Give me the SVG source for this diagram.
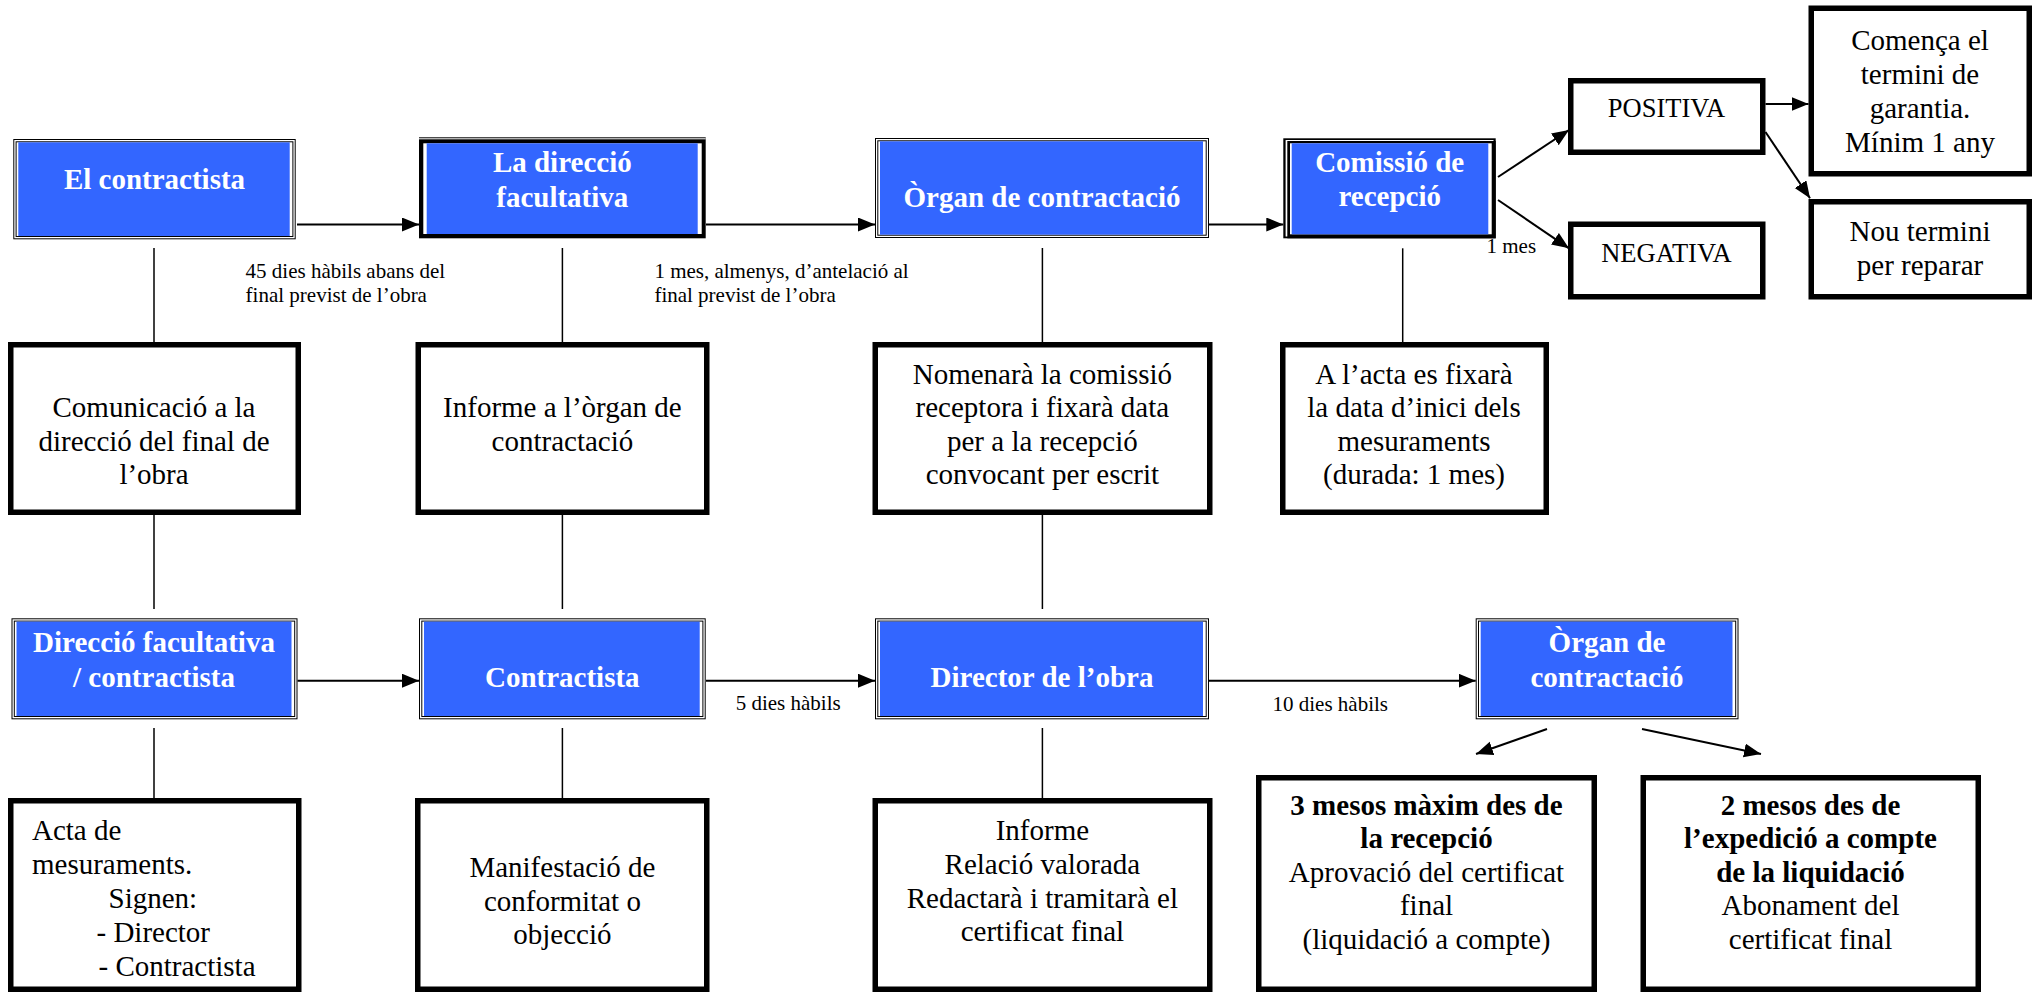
<svg xmlns="http://www.w3.org/2000/svg" width="2040" height="993" viewBox="0 0 2040 993">
<style>
.k{fill:#000}
.w{fill:#fff}
.b{fill:#3366ff}
.box{fill:#fff;stroke:#000;stroke-width:5.5}
text{font-family:"Liberation Serif","Times New Roman",serif;font-size:29px;fill:#000}
.c{text-anchor:middle}
.tb{font-weight:bold;fill:#fff;text-anchor:middle}
.bd{font-weight:bold}
.lbl{font-size:21px}
.cap{font-size:26.5px;text-anchor:middle}
.ln{stroke:#000;stroke-width:2;fill:none}
.vl{stroke:#000;stroke-width:1.5;fill:none}
.arr{marker-end:url(#ah)}
</style>
<defs>
<marker id="ah" markerUnits="userSpaceOnUse" markerWidth="18" markerHeight="15" refX="17" refY="7" orient="auto">
<path d="M0,0 L17,7 L0,14 z" fill="#000"/>
</marker>
</defs>
<rect x="0" y="0" width="2040" height="993" fill="#fff"/>

<g id="connectors">
<line class="ln arr" x1="297" y1="224.5" x2="419" y2="224.5"/>
<line class="ln arr" x1="706" y1="224.5" x2="875" y2="224.5"/>
<line class="ln arr" x1="1209" y1="224.5" x2="1283.3" y2="224.5"/>
<line class="ln arr" x1="1498" y1="177" x2="1569" y2="130"/>
<line class="ln arr" x1="1498" y1="200" x2="1569" y2="248.3"/>
<line class="ln arr" x1="1765.5" y1="104" x2="1808.5" y2="104"/>
<line class="ln arr" x1="1765.5" y1="132" x2="1810" y2="198.3"/>
<line class="vl" x1="154" y1="248" x2="154" y2="342"/>
<line class="vl" x1="154" y1="515" x2="154" y2="609"/>
<line class="vl" x1="154" y1="728" x2="154" y2="798"/>
<line class="vl" x1="562.4" y1="248" x2="562.4" y2="342"/>
<line class="vl" x1="562.4" y1="515" x2="562.4" y2="609"/>
<line class="vl" x1="562.4" y1="728" x2="562.4" y2="798"/>
<line class="vl" x1="1042.4" y1="248" x2="1042.4" y2="342"/>
<line class="vl" x1="1042.4" y1="515" x2="1042.4" y2="609"/>
<line class="vl" x1="1042.4" y1="728" x2="1042.4" y2="798"/>
<line class="vl" x1="1402.7" y1="248.3" x2="1402.7" y2="342"/>
<line class="ln arr" x1="297.5" y1="680.7" x2="419" y2="680.7"/>
<line class="ln arr" x1="706" y1="680.7" x2="875" y2="680.7"/>
<line class="ln arr" x1="1209" y1="680.7" x2="1475.7" y2="680.7"/>
<line class="ln arr" x1="1547" y1="729" x2="1476" y2="754"/>
<line class="ln arr" x1="1642" y1="729" x2="1761" y2="754"/>
<text class="lbl" x="245.6" y="277.7">45 dies hàbils abans del</text>
<text class="lbl" x="245.6" y="301.7">final previst de l’obra</text>
<text class="lbl" x="654.4" y="277.7">1 mes, almenys, d’antelació al</text>
<text class="lbl" x="654.4" y="301.7">final previst de l’obra</text>
<text class="lbl" x="1486.5" y="253.3">1 mes</text>
<text class="lbl" x="735.7" y="710">5 dies hàbils</text>
<text class="lbl" x="1272.5" y="710.5">10 dies hàbils</text>
</g>

<g id="n-el-contractista">
<rect class="k" x="13.3" y="139" width="282.4" height="100.3"/>
<rect class="w" x="14.3" y="140" width="280.4" height="98.3"/>
<rect class="k" x="15.6" y="141.3" width="277.8" height="95.7"/>
<rect class="w" x="16.6" y="142.3" width="275.8" height="93.7"/>
<rect class="b" x="18.3" y="142.3" width="271.4" height="93.7"/>
<text class="tb" x="154.5" y="189.3">El contractista</text>
</g>

<g id="n-la-direccio">
<rect class="k" x="419" y="137.3" width="286.7" height="101"/>
<rect class="w" x="419" y="138.3" width="286.7" height="1"/>
<rect class="w" x="423.3" y="143.3" width="278.4" height="90.7"/>
<rect class="b" x="426.7" y="143.3" width="271" height="90.7"/>
<text class="tb" x="562.3" y="172">La direcció</text>
<text class="tb" x="562.3" y="207">facultativa</text>
</g>

<g id="n-organ-contractacio-1">
<rect class="k" x="875" y="138" width="334" height="100"/>
<rect class="w" x="876" y="139" width="332" height="98"/>
<rect class="k" x="877.3" y="140.3" width="329.4" height="95.4"/>
<rect class="w" x="878.3" y="141.3" width="327.4" height="93.4"/>
<rect class="b" x="880" y="141.3" width="323" height="93.4"/>
<text class="tb" x="1042" y="207.3">Òrgan de contractació</text>
</g>

<g id="n-comissio">
<rect class="k" x="1283.3" y="138.3" width="212.4" height="100"/>
<rect class="w" x="1285.6" y="140" width="207.9" height="96.5"/>
<rect class="k" x="1287.3" y="141" width="208.4" height="97.3"/>
<rect class="w" x="1290" y="143.3" width="201.7" height="91"/>
<rect class="b" x="1291.7" y="143.3" width="196.6" height="91"/>
<text class="tb" x="1389.7" y="171.7">Comissió de</text>
<text class="tb" x="1389.7" y="206">recepció</text>
</g>

<g id="n-positiva">
<rect class="box" x="1570.75" y="80.75" width="192" height="71.5"/>
<text class="cap" x="1666.5" y="117.3">POSITIVA</text>
</g>

<g id="n-negativa">
<rect class="box" x="1570.75" y="224.25" width="192" height="72.5"/>
<text class="cap" x="1666.5" y="261.7">NEGATIVA</text>
</g>

<g id="n-comenca">
<rect class="box" x="1811.25" y="8.25" width="218" height="165.5"/>
<text class="c" x="1920" y="49.5">Comença el</text>
<text class="c" x="1920" y="83.5">termini de</text>
<text class="c" x="1920" y="117.5">garantia.</text>
<text class="c" x="1920" y="151.5">Mínim 1 any</text>
</g>

<g id="n-nou-termini">
<rect class="box" x="1811.25" y="201.75" width="218" height="95"/>
<text class="c" x="1920" y="240.5">Nou termini</text>
<text class="c" x="1920" y="274.5">per reparar</text>
</g>

<g id="n-comunicacio">
<rect class="box" x="10.75" y="344.75" width="287.5" height="167.5"/>
<text class="c" x="154" y="417">Comunicació a la</text>
<text class="c" x="154" y="450.5">direcció del final de</text>
<text class="c" x="154" y="484">l’obra</text>
</g>

<g id="n-informe-organ">
<rect class="box" x="418.25" y="344.75" width="288.5" height="167.5"/>
<text class="c" x="562.4" y="417">Informe a l’òrgan de</text>
<text class="c" x="562.4" y="450.5">contractació</text>
</g>

<g id="n-nomenara">
<rect class="box" x="875.25" y="344.75" width="334.5" height="167.5"/>
<text class="c" x="1042.4" y="383.5">Nomenarà la comissió</text>
<text class="c" x="1042.4" y="417">receptora i fixarà data</text>
<text class="c" x="1042.4" y="450.5">per a la recepció</text>
<text class="c" x="1042.4" y="484">convocant per escrit</text>
</g>

<g id="n-acta-fixara">
<rect class="box" x="1282.75" y="344.75" width="263.5" height="167.5"/>
<text class="c" x="1414" y="383.5">A l’acta es fixarà</text>
<text class="c" x="1414" y="417">la data d’inici dels</text>
<text class="c" x="1414" y="450.5">mesuraments</text>
<text class="c" x="1414" y="484">(durada: 1 mes)</text>
</g>

<g id="n-direccio-contractista">
<rect class="k" x="11.5" y="618.3" width="286" height="101"/>
<rect class="w" x="12.5" y="619.3" width="284" height="99"/>
<rect class="k" x="13.8" y="620.6" width="281.4" height="96.4"/>
<rect class="w" x="14.8" y="621.6" width="279.4" height="94.4"/>
<rect class="b" x="16.5" y="621.6" width="275" height="94.4"/>
<text class="tb" x="154" y="651.7">Direcció facultativa</text>
<text class="tb" x="154" y="686.7">/ contractista</text>
</g>

<g id="n-contractista">
<rect class="k" x="419" y="618.3" width="286.7" height="101"/>
<rect class="w" x="420" y="619.3" width="284.7" height="99"/>
<rect class="k" x="421.3" y="620.6" width="282.1" height="96.4"/>
<rect class="w" x="422.3" y="621.6" width="280.1" height="94.4"/>
<rect class="b" x="424" y="621.6" width="275.7" height="94.4"/>
<text class="tb" x="562.3" y="686.7">Contractista</text>
</g>

<g id="n-director-obra">
<rect class="k" x="875" y="618.3" width="334" height="101"/>
<rect class="w" x="876" y="619.3" width="332" height="99"/>
<rect class="k" x="877.3" y="620.6" width="329.4" height="96.4"/>
<rect class="w" x="878.3" y="621.6" width="327.4" height="94.4"/>
<rect class="b" x="880" y="621.6" width="323" height="94.4"/>
<text class="tb" x="1042" y="686.7">Director de l’obra</text>
</g>

<g id="n-organ-contractacio-2">
<rect class="k" x="1475.7" y="618.3" width="262.8" height="101"/>
<rect class="w" x="1476.7" y="619.3" width="260.8" height="99"/>
<rect class="k" x="1478" y="620.6" width="258.2" height="96.4"/>
<rect class="w" x="1479" y="621.6" width="256.2" height="94.4"/>
<rect class="b" x="1480.7" y="621.6" width="251.8" height="94.4"/>
<text class="tb" x="1607" y="651.7">Òrgan de</text>
<text class="tb" x="1607" y="686.7">contractació</text>
</g>

<g id="n-acta-mesuraments">
<rect class="box" x="10.75" y="800.75" width="288" height="188.5"/>
<text x="32" y="840">Acta de</text>
<text x="32" y="873.5">mesuraments.</text>
<text x="108.5" y="907.5">Signen:</text>
<text x="96.5" y="942">- Director</text>
<text x="98.5" y="976">- Contractista</text>
</g>

<g id="n-manifestacio">
<rect class="box" x="417.75" y="800.75" width="289" height="188.5"/>
<text class="c" x="562.4" y="877">Manifestació de</text>
<text class="c" x="562.4" y="910.5">conformitat o</text>
<text class="c" x="562.4" y="944">objecció</text>
</g>

<g id="n-informe-relacio">
<rect class="box" x="875.25" y="800.75" width="334.5" height="188.5"/>
<text class="c" x="1042.4" y="840">Informe</text>
<text class="c" x="1042.4" y="873.5">Relació valorada</text>
<text class="c" x="1042.4" y="907.5">Redactarà i tramitarà el</text>
<text class="c" x="1042.4" y="941">certificat final</text>
</g>

<g id="n-tres-mesos">
<rect class="box" x="1258.75" y="777.75" width="335.5" height="211.5"/>
<text class="c bd" x="1426.5" y="814.5">3 mesos màxim des de</text>
<text class="c bd" x="1426.5" y="848">la recepció</text>
<text class="c" x="1426.5" y="881.5">Aprovació del certificat</text>
<text class="c" x="1426.5" y="915">final</text>
<text class="c" x="1426.5" y="948.5">(liquidació a compte)</text>
</g>

<g id="n-dos-mesos">
<rect class="box" x="1643.25" y="777.75" width="335" height="211.5"/>
<text class="c bd" x="1810.5" y="814.5">2 mesos des de</text>
<text class="c bd" x="1810.5" y="848">l’expedició a compte</text>
<text class="c bd" x="1810.5" y="881.5">de la liquidació</text>
<text class="c" x="1810.5" y="915">Abonament del</text>
<text class="c" x="1810.5" y="948.5">certificat final</text>
</g>
</svg>
